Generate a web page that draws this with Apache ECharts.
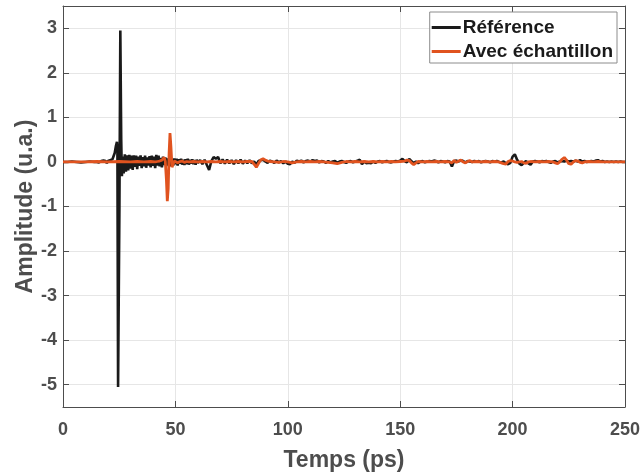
<!DOCTYPE html>
<html>
<head>
<meta charset="utf-8">
<script src="https://cdn.jsdelivr.net/npm/echarts@6/dist/echarts.min.js"></script>
<style>html,body{margin:0;padding:0;background:#fff;}#c{width:643px;height:472px;}</style>
</head>
<body>
<div id="c"></div>
<script>
// ---- data ----
const seriesNames = ['Référence', 'Avec échantillon'];
const xTicks = [0, 50, 100, 150, 200, 250];
const yTicks = [-5, -4, -3, -2, -1, 0, 1, 2, 3];

// Référence: [time (ps), amplitude (u.a.)]
const refTrace = [
[0,0],[2,0],[4,0.01],[6,0],[8,-0.01],[10,0],[12,0.01],[14,0],[15,0],[16,-0.01],
[17,0.02],[17.5,-0.02],[18,0.03],[18.5,-0.01],[19,0.02],[19.5,-0.03],[20,0.02],[20.5,-0.02],[21,0.04],[21.5,0],
[22,0.06],[22.5,0.1],[23,0.2],[23.5,0.35],[24,0.45],[24.2,0.3],[24.5,-5.05],[25.1,-1.0],[25.5,2.95],[25.9,0.5],
[26.2,-0.32],[26.6,0.12],[27,-0.26],[27.5,0.17],[28,-0.22],[28.5,0.15],[29,-0.19],[29.5,0.16],[30,-0.15],[30.5,0.14],
[31,-0.18],[31.5,0.15],[32,-0.11],[32.5,0.14],[33,-0.16],[33.5,0.12],[34,-0.09],[34.5,0.15],[35,-0.14],[35.5,0.11],
[36,-0.1],[36.5,0.14],[37,-0.13],[37.5,0.1],[38,-0.08],[38.5,0.13],[39,-0.12],[39.5,0.14],[40,-0.09],[40.5,0.12],
[41,-0.14],[41.5,0.16],[42,-0.08],[42.5,0.14],[43,-0.1],[43.5,0.09],[44,-0.12],[44.5,0.12],[45,-0.07],[45.5,0.1],
[46,-0.09],[46.5,0.08],[47,-0.06],[47.5,0.09],[48,-0.1],[48.5,0.06],[49,-0.08],[49.5,0.08],[50,-0.05],[50.5,0.07],
[51,-0.08],[51.5,0.06],[52,-0.04],[52.5,0.07],[53,-0.06],[53.5,0.05],[54,-0.07],[54.5,0.06],[55,-0.05],[55.5,0.07],
[56,-0.06],[56.5,0.05],[57,-0.04],[57.5,0.06],[58,-0.05],[58.5,0.04],[59,-0.06],[59.5,0.05],[60,-0.02],
[61,0.04],[62,-0.05],[63,0.05],[64,-0.07],[65,-0.18],[66,0.02],[67,0.11],[68,0.07],[69,0.11],[70,-0.03],
[71,0.06],[72,-0.04],[73,0.05],[74,-0.03],[75,0.04],[76,-0.05],[77,0.04],[78,-0.03],[79,0.05],[80,-0.04],
[81,0.03],[82,-0.03],[83,0.04],[84,-0.03],[85,0.01],[86,-0.06],[87,0.02],[88,0.04],[89,0.05],[90,0.01],
[91,-0.02],[92,0.03],[93,0.01],[94,-0.02],[95,0.03],[96,-0.01],[97,0.02],[98,-0.03],[99,0.01],[100,-0.04],
[101,-0.05],[102,0.01],[103,-0.02],[104,0.03],[105,0.01],[106,0.03],[107,-0.01],[108,0.02],[109,0.03],[110,0.01],
[111,0.04],[112,0.02],[113,0.03],[114,-0.01],[115,0.02],[116,0.01],[117,-0.02],[118,0.02],[119,-0.01],[120,0.01],
[121,0.02],[122,-0.02],[123,0.01],[124,0.02],[125,0],[126,-0.02],[127,0.01],[128,0.02],[129,-0.01],[130,0.01],
[131,0.03],[132,0.05],[133,-0.05],[134,0.01],[135,-0.03],[136,-0.02],[137,-0.03],[138,0.01],[139,-0.02],[140,0.01],
[141,0.02],[142,-0.01],[143,0.01],[144,0.02],[145,0],[146,-0.01],[147,0.01],[148,0.02],[149,0.01],[150,0.03],
[151,0.07],[152,0.02],[153,-0.01],[154,0.07],[155,0.02],[156,-0.03],[157,0.01],[158,-0.03],[159,0.01],[160,0.02],
[161,-0.01],[162,0.01],[163,0.02],[164,0.01],[165,0.03],[166,0.02],[167,-0.01],[168,0.02],[169,0.01],[170,-0.01],
[171,0.02],[172,0.01],[173,-0.1],[174,0.02],[175,0.03],[176,0.01],[177,0.04],[178,0.02],[179,-0.01],[180,0.02],
[181,0.01],[182,0],[183,0.02],[184,0.01],[185,0.02],[186,-0.01],[187,0.01],[188,0.02],[189,0.01],[190,-0.01],
[191,0.02],[192,0.01],[193,0.02],[194,0],[195,-0.01],[196,0.01],[197,-0.03],[198,-0.05],[199,-0.02],[200,0.12],
[201,0.17],[202,0.05],[203,-0.04],[204,-0.07],[205,-0.02],[206,0.02],[207,-0.03],[208,-0.06],[209,0.01],[210,0.02],
[211,0.01],[212,-0.01],[213,0.02],[214,0.01],[215,0.02],[216,0],[217,-0.02],[218,0.01],[219,0.02],[220,-0.01],
[221,0.01],[222,0.02],[223,0.01],[224,0.03],[225,0.01],[226,0.02],[227,0.01],[228,0.03],[229,0.01],[230,0.04],
[231,0.01],[232,0.02],[233,0],[234,0.01],[235,0.02],[236,0.01],[237,0.03],[238,0.04],[239,0.01],[240,0.02],
[241,0],[242,0.01],[243,0],[244,0.01],[245,0],[246,0.01],[247,0],[248,0.01],[249,0],[250,0]
];

// Avec échantillon: [time (ps), amplitude (u.a.)]
const sampleTrace = [
[0,0],[5,0],[10,0],[15,0.01],[20,0],[25,0.01],[30,0],[33,0.01],[36,0],[39,0.01],
[41,0],[42,0.01],[43,0.02],[44,0.04],[44.5,0.08],[45,0.1],[45.5,0.02],[46,-0.4],[46.4,-0.88],[46.8,-0.6],
[47.2,0.2],[47.6,0.65],[48,0.35],[48.5,-0.12],[49,-0.1],[49.5,0.02],[50,0.03],[51,-0.02],[52,0.01],[53,0.02],
[54,-0.01],[55,0.01],[56,0],[58,0.01],[60,0],[62,0.01],[64,0],[66,0.01],[68,0],[70,0.01],
[72,0],[74,0.01],[76,0],[78,0.01],[80,0],[82,0.01],[84,0.01],[85,-0.05],[86,-0.12],[87,-0.03],
[88,0.05],[89,0.07],[90,0.04],[91,0.02],[92,0.01],[94,0],[96,-0.01],[98,0.01],[100,0],[102,-0.02],
[104,0],[106,0.01],[108,0],[110,0.01],[112,0],[114,0.01],[116,0],[118,-0.01],[120,-0.02],[122,-0.04],
[124,-0.01],[126,0.01],[128,0],[130,0.01],[132,0],[134,0.01],[136,0],[138,0.01],[140,0],[142,0.01],
[144,0],[146,0.01],[148,0],[150,0.01],[152,0.02],[153,0.04],[154,0.03],[155,-0.02],[156,-0.06],[157,-0.02],
[158,0.01],[160,0],[162,0.01],[164,0],[166,0.01],[168,0],[170,0.01],[172,0],[173,-0.02],[174,0.03],
[175,-0.01],[176,0.02],[177,0.04],[178,0],[179,-0.02],[180,0.01],[181,0.03],[182,0],[184,0.01],[186,0],
[188,0.01],[190,0],[192,0.01],[194,0],[195,-0.02],[196,-0.04],[197,-0.05],[198,0.01],[199,0.03],[200,0.02],
[201,0],[202,-0.01],[204,0.01],[205,-0.02],[206,-0.03],[207,0],[208,0.01],[210,0],[212,0.01],[214,0],
[216,0.01],[218,0],[219,-0.02],[220,-0.04],[221,0],[222,0.06],[223,0.1],[224,0.04],[225,-0.04],[226,-0.05],
[227,0],[228,0.03],[229,0.02],[230,-0.01],[231,-0.02],[232,0],[234,0.01],[236,0],[238,0.01],[240,0],
[245,0],[250,0]
];

const chart = echarts.init(document.getElementById('c'), null, {renderer: 'canvas'});
const FONT = '"Liberation Sans", Arial, Helvetica, sans-serif';
const AX = '#4d4d4d';
const GRIDC = '#e6e6e6';

const option = {
  backgroundColor: '#ffffff',
  animation: false,
  grid: {left: 63, right: 18, top: 6, bottom: 65, containLabel: false, outerBoundsMode: 'none'},
  legend: {
    orient: 'vertical', right: 26, top: 12,
    data: seriesNames,
    icon: 'rect', itemWidth: 29, itemHeight: 3, itemGap: 5,
    padding: [6, 4, 2, 2],
    borderColor: '#8c8c8c', borderWidth: 1, backgroundColor: '#ffffff',
    textStyle: {fontFamily: FONT, fontWeight: 'bold', fontSize: 19, color: '#1a1a1a', lineHeight: 19, padding: [0,0,0,-3]}
  },
  xAxis: [{
    type: 'value', min: 0, max: 250, interval: 50,
    name: 'Temps (ps)', nameLocation: 'middle', nameGap: 42, nameMoveOverlap: false,
    nameTextStyle: {fontFamily: FONT, fontWeight: 'bold', fontSize: 23, color: AX},
    axisLine: {show: true, onZero: false, lineStyle: {color: AX, width: 1}},
    axisTick: {show: true, inside: true, length: 6, lineStyle: {color: AX}},
    axisLabel: {fontFamily: FONT, fontWeight: 'bold', fontSize: 18, color: AX, margin: 14},
    splitLine: {show: true, lineStyle: {color: GRIDC, width: 1}}
  }, {
    type: 'value', min: 0, max: 250, interval: 50, position: 'top',
    axisLine: {show: true, onZero: false, lineStyle: {color: AX, width: 1}},
    axisTick: {show: true, inside: true, length: 6, lineStyle: {color: AX}},
    axisLabel: {show: false}, splitLine: {show: false}
  }],
  yAxis: [{
    type: 'value', min: -5.5, max: 3.5,
    name: 'Amplitude (u.a.)', nameLocation: 'middle', nameGap: 26, nameMoveOverlap: false,
    nameTextStyle: {fontFamily: FONT, fontWeight: 'bold', fontSize: 23, color: AX},
    axisLine: {show: true, onZero: false, lineStyle: {color: AX, width: 1}},
    axisTick: {show: true, inside: true, length: 6, customValues: yTicks, lineStyle: {color: AX}},
    axisLabel: {fontFamily: FONT, fontWeight: 'bold', fontSize: 18, color: AX, margin: 6, customValues: yTicks},
    splitLine: {show: true, lineStyle: {color: GRIDC, width: 1}}
  }, {
    type: 'value', min: -5.5, max: 3.5, position: 'right',
    axisLine: {show: true, onZero: false, lineStyle: {color: AX, width: 1}},
    axisTick: {show: true, inside: true, length: 6, customValues: yTicks, lineStyle: {color: AX}},
    axisLabel: {show: false}, splitLine: {show: false}
  }],
  series: [{
    name: seriesNames[0], type: 'line', data: refTrace, showSymbol: false, symbol: 'none',
    lineStyle: {color: '#1a1a1a', width: 2.6}, itemStyle: {color: '#1a1a1a'}, z: 2
  }, {
    name: seriesNames[1], type: 'line', data: sampleTrace, showSymbol: false, symbol: 'none',
    lineStyle: {color: '#e0531f', width: 2.8}, itemStyle: {color: '#e0531f'}, z: 3
  }]
};
chart.setOption(option);
</script>
</body>
</html>
